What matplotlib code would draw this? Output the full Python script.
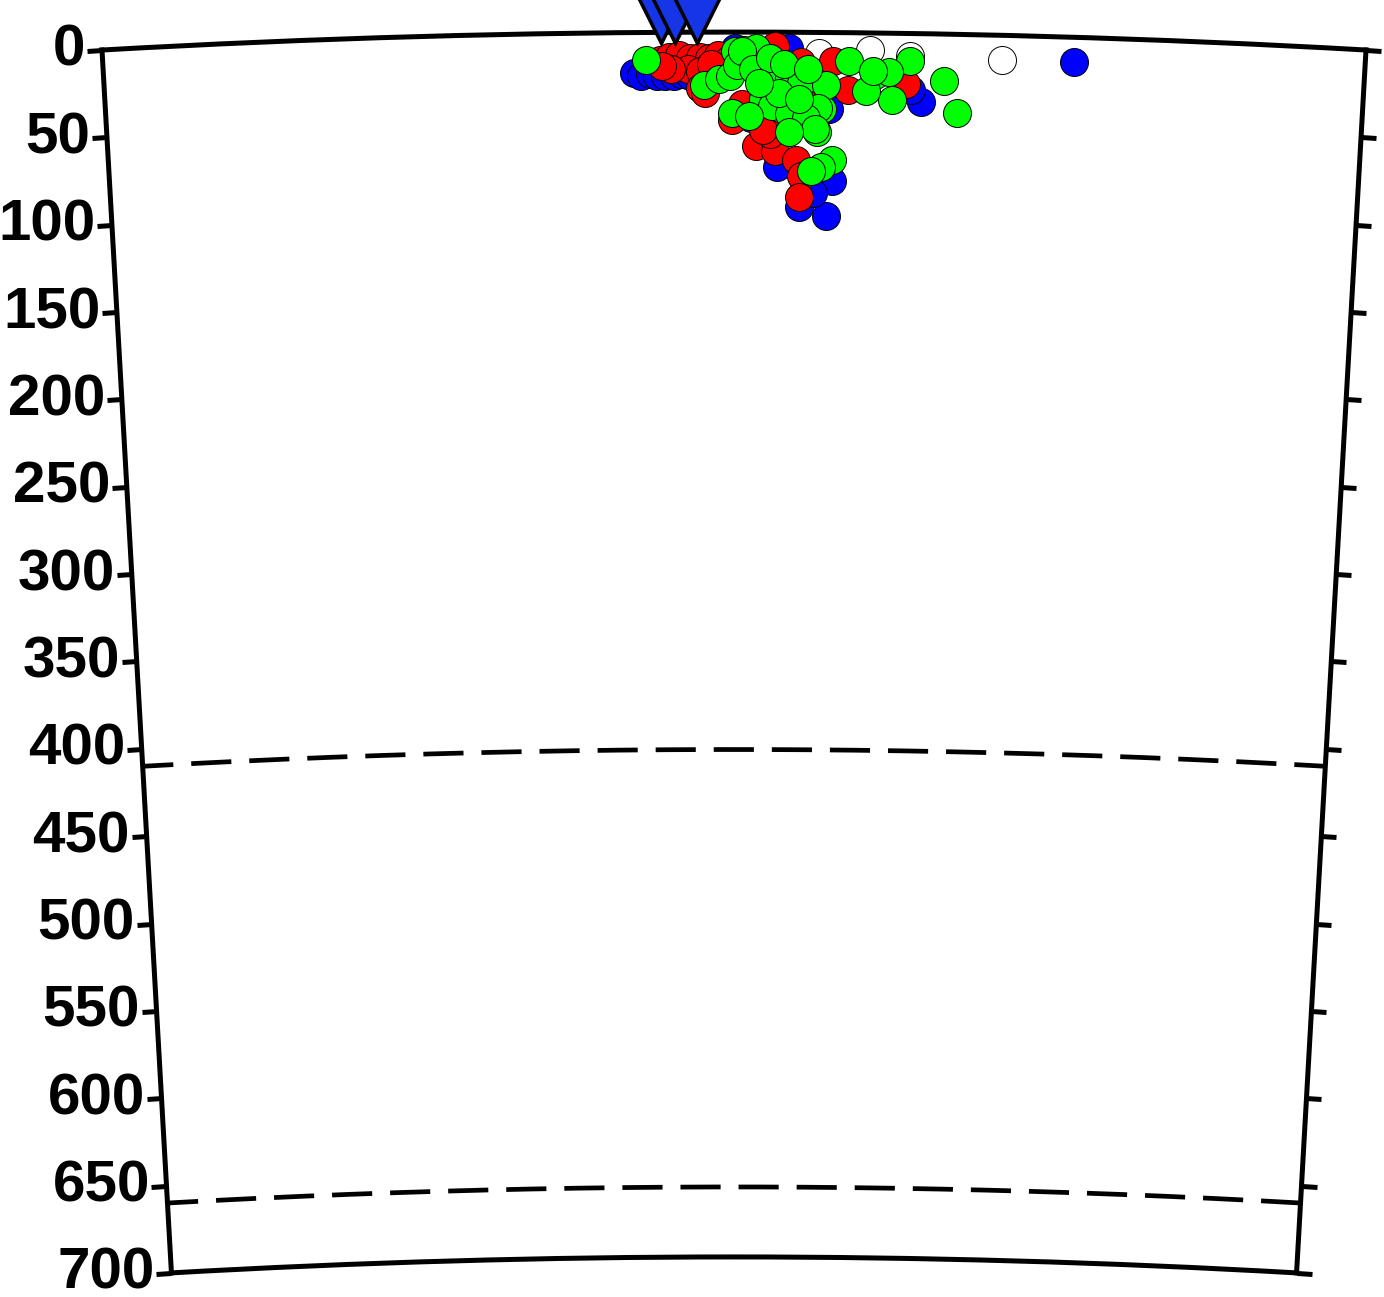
import matplotlib.pyplot as plt
import numpy as np

plt.rcParams['font.family'] = ['Liberation Sans', 'DejaVu Sans']
plt.rcParams['font.weight'] = 'bold'

R_EARTH = 6371.0
HALF_DEG = 3.25          # half opening of the section
PROFILE_LEN = 2 * np.deg2rad(HALF_DEG) * R_EARTH

# events: distance along profile (km), depth (km)
blue_dist = [304, 308, 313, 317, 322, 327, 331, 336, 362, 393, 416, 469, 556,
             386, 418, 399, 415, 407, 371, 463]
blue_dep = [23, 25, 24, 25, 25, 25, 24, 25, 9, 9, 44, 39, 14,
            77, 85, 100, 105, 92, 49, 32]

red_dist = [319, 324, 330, 336, 342, 347, 352, 358, 335, 342, 348, 325, 320,
            342, 345, 385, 400, 418, 427, 460, 360, 374, 385, 397, 400, 399,
            382, 378, 382, 376, 406, 366]
red_dep = [16, 14, 13, 15, 14, 15, 13, 16, 21, 22, 18, 21, 19,
           32, 35, 8, 17, 16, 33, 29, 50, 65, 68, 73, 82, 94,
           58, 56, 35, 26, 31, 41]

green_dist = [311, 362, 367, 374, 427, 462, 442, 450, 452, 482, 490, 437, 412,
              409, 344, 353, 359, 363, 366, 360, 372, 386, 393, 400, 414, 410,
              378, 383, 393, 403, 408, 370, 393, 418, 412, 406, 441,
              387, 399, 382, 390, 404, 376]
green_dep = [16, 11, 10, 9, 16, 16, 24, 22, 38, 27, 45, 33, 44,
             57, 30, 27, 25, 19, 11, 46, 21, 25, 26, 29, 30, 43,
             38, 42, 47, 49, 55, 48, 57, 73, 77, 79, 22,
             35, 38, 15, 18, 21, 29]

white_dist = [410, 439, 462, 515]
white_dep = [12, 10, 13, 14]

# stations (plotted slightly above the surface)
sta_dist = [320, 328, 340]
sta_elev = 11

disc_depths = [410, 660]
tick_depths = np.arange(0, 701, 50)


def th(d):
    return (np.asarray(d, float) - PROFILE_LEN / 2) / R_EARTH


def rr(z):
    return R_EARTH - np.asarray(z, float)


fig = plt.figure(figsize=(13.84, 12.97), dpi=100)
ax = fig.add_axes([89 / 1384, 12.5 / 1297, 1290 / 1384, 1264 / 1297],
                  projection='polar')
ax.set_theta_zero_location('N')
ax.set_theta_direction(-1)
ax.set_thetamin(-HALF_DEG)
ax.set_thetamax(HALF_DEG)
ax.set_rlim(R_EARTH - 700, R_EARTH)
ax.set_rorigin(0)
ax.grid(False)
ax.set_xticks([])
ax.set_yticks(rr(tick_depths))
ax.set_yticklabels([str(d) for d in tick_depths])
ax.tick_params(axis='y', labelsize=42, length=11, width=3.6, pad=1,
               labelrotation=0, left=True, right=True,
               labelleft=True, labelright=False)
for sp in ax.spines.values():
    sp.set_linewidth(3.6)

tt = np.linspace(th(0), th(PROFILE_LEN), 200)
for z in disc_depths:
    ax.plot(tt, np.full_like(tt, rr(z)), color='k', lw=3.4,
            linestyle=(2, (8.5, 3.8)))

ms = 406
ax.scatter(th(white_dist), rr(white_dep), s=ms, c='white', edgecolors='k',
           linewidths=0.7, zorder=3)
ax.scatter(th(blue_dist), rr(blue_dep), s=ms, c='#0000ff', edgecolors='k',
           linewidths=0.7, zorder=4)
ax.scatter(th(red_dist), rr(red_dep), s=ms, c='#ff0000', edgecolors='k',
           linewidths=0.7, zorder=5)
ax.scatter(th(green_dist), rr(green_dep), s=ms, c='#00ff00', edgecolors='k',
           linewidths=0.7, zorder=6)

ax.plot(th(sta_dist), rr([-sta_elev] * len(sta_dist)), 'v', ms=43,
        mfc='#1535e6', mec='k', mew=2.5, clip_on=False, zorder=10)

fig.savefig('out.png', dpi=100)
